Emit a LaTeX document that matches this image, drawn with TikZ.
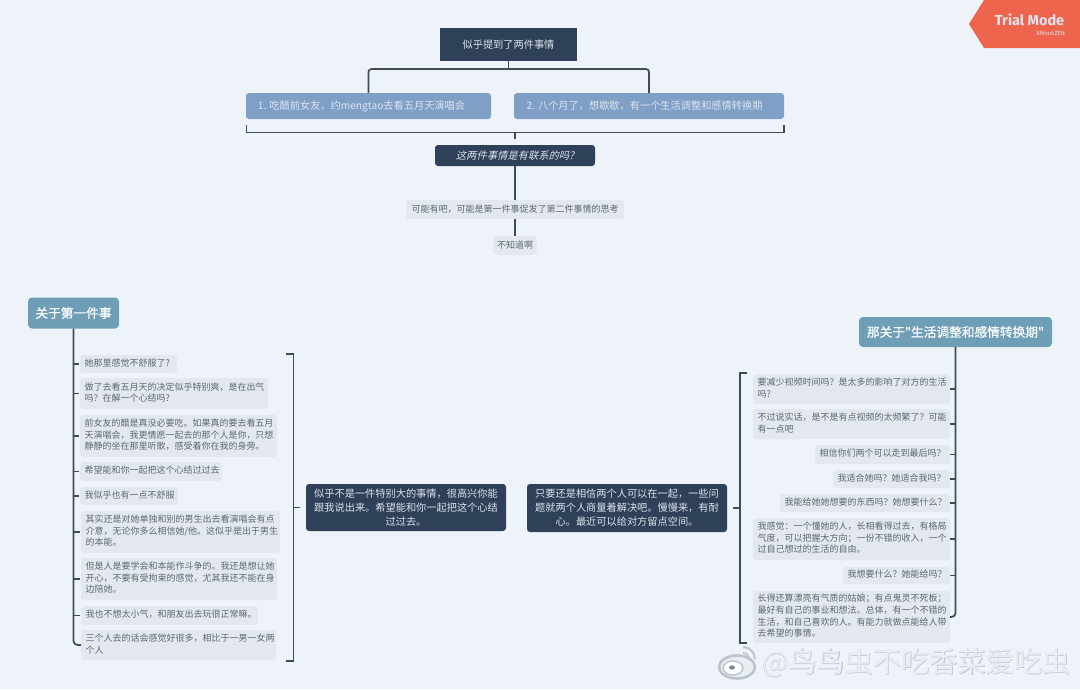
\documentclass[tikz,border=0pt]{standalone}
\usepackage{fontspec}
\setmainfont{Noto Sans CJK SC}
\newfontfamily\slantfont[FakeSlant=0.25]{Noto Sans CJK SC}
\newfontfamily\medfont[FakeBold=0.6]{Noto Sans CJK SC}
\newfontfamily\markfont[FakeBold=2.5]{Noto Sans CJK SC}
\newfontfamily\markfontb[FakeBold=1.2]{Noto Sans CJK SC}
\newfontfamily\trialfont{Fira Sans}
\definecolor{pagebg}{HTML}{EDF3F9}
\definecolor{linec}{HTML}{3F4B5B}
\definecolor{darkbox}{HTML}{2F4059}
\definecolor{bluebox}{HTML}{809FC7}
\definecolor{titlebox}{HTML}{6F9FB7}
\definecolor{leafbg}{HTML}{E3E8EE}
\definecolor{leaftext}{HTML}{5E6772}
\definecolor{lighttext}{HTML}{DCE4EE}
\definecolor{coral}{HTML}{EF644D}
\definecolor{markout}{HTML}{BCC3CB}
\definecolor{markin}{HTML}{E9EEF3}
\tikzset{
  base/.style={inner sep=0pt,outer sep=0pt,anchor=center},
  leafbox/.style={base,fill=leafbg,rounded corners=3pt,text=leaftext,font=\fontsize{9}{11.6}\selectfont},
  darkrect/.style={base,fill=darkbox,text=lighttext},
  midbox/.style={base,fill=darkbox,rounded corners=3pt,text=lighttext,align=center,font=\fontsize{10.2}{14}\selectfont},
  bluerect/.style={base,fill=bluebox,rounded corners=3pt,text=lighttext,font=\fontsize{10.2}{12}\selectfont},
  titlerect/.style={base,fill=titlebox,rounded corners=4pt,text=white,font=\medfont\fontsize{12.7}{15}\selectfont},
  conn/.style={draw=linec,line width=1.7pt},
  thinconn/.style={draw=linec,line width=1.2pt},
}
% \boxat{style}{name}{x1}{y1}{x2}{y2}{align}{text}
\newcommand{\boxat}[8]{%
  \node[#1,minimum width={#5pt-#3pt},minimum height={#6pt-#4pt}] (#2) at ({(#3+#5)/2},{(#4+#6)/2})
    {\begin{minipage}{\dimexpr#5pt-#3pt-9pt\relax}#7\strut#8\strut\end{minipage}};}
\begin{document}
\begin{tikzpicture}[x=1pt,y=-1pt]
\useasboundingbox (0,0) rectangle (1080,689);
\fill[pagebg] (0,0) rectangle (1080,689);

% trial badge
\fill[coral] (984,0) -- (1080,0) -- (1080,48) -- (984,48) -- (969,24) -- cycle;
\node[base,text=lighttext,font=\trialfont\bfseries\fontsize{14.5}{14}\selectfont] (trial) at (1029.5,20) {Trial Mode};
\node[base,anchor=east,text=lighttext,font=\trialfont\fontsize{6}{6}\selectfont] (zen) at (1065,33) {XMind:ZEN};

% top
\node[darkrect,minimum width=137pt,minimum height=33pt,font=\fontsize{10.2}{12}\selectfont] (root) at (508.5,44.5) {似乎提到了两件事情};
\node[bluerect,minimum width=245pt,minimum height=26pt] (b1) at (368.5,106) {1. 吃醋前女友，约mengtao去看五月天演唱会\hspace{14pt}\mbox{}};
\node[bluerect,minimum width=270pt,minimum height=26pt] (b2) at (649,106) {2. 八个月了，想歇歇，有一个生活调整和感情转换期\hspace{9pt}\mbox{}};
\coordinate (rj) at (508.5,69);
\draw[conn] (root.south) -- (rj);
\draw[conn,rounded corners=3pt] (b1.north) |- (rj) -| (b2.north);

\coordinate (bl) at (246.5,125);
\coordinate (br) at (784,125);
\coordinate (bm) at (515,132.5);
\coordinate (bs) at (515,139);
\draw[thinconn] (bl) |- (bm) -| (br);
\draw[thinconn] (bm) -- (bs);

\node[base,fill=darkbox,rounded corners=3pt,text=lighttext,minimum width=160pt,minimum height=21pt,font=\slantfont\fontsize{10.3}{12}\selectfont] (q) at (515,155.5) {这两件事情是有联系的吗?};
\node[base,fill=leafbg,rounded corners=3pt,text=leaftext,minimum width=218pt,minimum height=19pt,font=\fontsize{9}{11}\selectfont] (n4) at (515,209.5) {可能有吧，可能是第一件事促发了第二件事情的思考};
\node[base,fill=leafbg,rounded corners=3pt,text=leaftext,minimum width=43pt,minimum height=19pt,font=\fontsize{9}{11}\selectfont] (n5) at (515,245.5) {不知道啊};
\draw[conn] (q.south) -- (n4.north);
\draw[conn] (n4.south) -- (n5.north);

% left branch
\node[titlerect,minimum width=91pt,minimum height=31pt] (lt) at (73.5,313) {关于第一件事};
\boxat{leafbox}{l1}{80}{355}{177}{373}{\raggedright}{她那里感觉不舒服了?}
\boxat{leafbox}{l2}{80}{378}{268}{409}{\raggedright}{做了去看五月天的决定似乎特别爽，是在出气\\吗？在解一个心结吗?}
\boxat{leafbox}{l3}{80}{415}{277}{457}{\raggedright}{前女友的醋是真没必要吃。如果真的要去看五月\\天演唱会，我更情愿一起去的那个人是你，只想\\静静的坐在那里听歌，感受着你在我的身旁。}
\boxat{leafbox}{l4}{80}{462}{222}{481}{\raggedright}{希望能和你一起把这个心结过过去}
\boxat{leafbox}{l5}{80}{487}{178}{505}{\raggedright}{我似乎也有一点不舒服}
\boxat{leafbox}{l6}{81}{511}{280}{553}{\raggedright}{其实还是对她单独和别的男生出去看演唱会有点\\介意，无论你多么相信她/他。这似乎是出于男生\\的本能。}
\boxat{leafbox}{l7}{81}{558}{277}{600}{\raggedright}{但是人是要学会和本能作斗争的。我还是想让她\\开心，不要有受拘束的感觉，尤其我还不能在身\\边陪她。}
\boxat{leafbox}{l8}{81}{606}{258}{625}{\raggedright}{我也不想太小气，和朋友出去玩很正常嘛。}
\boxat{leafbox}{l9}{81}{630}{276}{660}{\raggedright}{三个人去的话会感觉好很多，相比于一男一女两\\个人}
\draw[conn,rounded corners=4pt] (lt.south) |- (l9.west);
\foreach \n in {l1,l2,l3,l4,l5,l6,l7,l8}
  \draw[thinconn] (\n.west -| lt.south) -- ([xshift=-1pt]\n.west);

% left bracket and middle
\coordinate (lbt) at (286,354);
\coordinate (lbb) at (286,661);
\coordinate (lbx) at (293.5,507.5);
\coordinate (lbs) at (300,507.5);
\draw[thinconn] (lbt) -| (lbx) |- (lbb);
\draw[thinconn] (lbx) -- (lbs);
\node[midbox,minimum width=200pt,minimum height=47pt] (m1) at (406,507.5) {似乎不是一件特别大的事情，很高兴你能\\跟我说出来。希望能和你一起把这个心结\\过过去。};
\node[midbox,minimum width=200pt,minimum height=48pt] (m2) at (627,508) {只要还是相信两个人可以在一起，一些问\\题就两个人商量着解决吧。慢慢来，有耐\\心。最近可以给对方留点空间。};

% right branch
\node[titlerect,minimum width=193pt,minimum height=30pt] (rt) at (955.5,332) {那关于"生活调整和感情转换期"};
\boxat{leafbox}{r1}{753}{374}{950}{404}{\raggedright}{要减少视频时间吗？是太多的影响了对方的生活\\吗?}
\boxat{leafbox}{r2}{753}{409}{950}{439}{\raggedright}{不过说实话，是不是有点视频的太频繁了？可能\\有一点吧}
\boxat{leafbox}{r3}{815}{445}{950}{464}{\raggedleft}{相信你们两个可以走到最后吗？}
\boxat{leafbox}{r4}{833}{470}{950}{488}{\raggedleft}{我适合她吗？她适合我吗？}
\boxat{leafbox}{r5}{780}{494}{950}{512}{\raggedleft}{我能给她她想要的东西吗？她想要什么？}
\boxat{leafbox}{r6}{753}{518}{950}{560}{\raggedright}{我感觉：一个懂她的人，长相看得过去，有格局\\气度，可以把握大方向；一份不错的收入，一个\\过自己想过的生活的自由。}
\boxat{leafbox}{r7}{843}{567}{950}{584}{\raggedleft}{我想要什么？她能给吗？}
\boxat{leafbox}{r8}{753}{591}{950}{643}{\raggedright}{长得还算漂亮有气质的姑娘；有点鬼灵不死板；\\最好有自己的事业和想法。总体，有一个不错的\\生活，和自己喜欢的人。有能力就做点能给人带\\去希望的事情。}
\draw[conn,rounded corners=4pt] (rt.south) |- (r8.east);
\foreach \n in {r1,r2,r3,r4,r5,r6,r7}
  \draw[thinconn] (\n.east -| rt.south) -- (\n.east);

% right bracket
\coordinate (rbt) at (747,373);
\coordinate (rbb) at (747,643);
\coordinate (rbx) at (740,508);
\coordinate (rbs) at (733,508);
\draw[thinconn] (rbt) -| (rbx) |- (rbb);
\draw[thinconn] (rbx) -- (rbs);

% watermark
\node[base,anchor=west,font=\fontsize{28.2}{30}\selectfont] (mark) at (762,663)
  {\rlap{\markfont\color{white}@鸟鸟虫不吃香菜爱吃虫}\rlap{\markfontb\color{markout}@鸟鸟虫不吃香菜爱吃虫}\color{markin}@鸟鸟虫不吃香菜爱吃虫};
\draw[markout,line width=2.6pt,fill=markin] (737,667) ellipse (18pt and 11.5pt);
\draw[markout,line width=1.4pt,fill=white] (733,668) ellipse (10pt and 7pt);
\fill[markout!70!black] (732,667.5) ellipse (3pt and 2.2pt);
\draw[markout,line width=1.8pt] (743,653) arc (90:0:6pt);
\draw[markout,line width=2pt] (743,647) arc (90:0:12pt);
\end{tikzpicture}
\end{document}
